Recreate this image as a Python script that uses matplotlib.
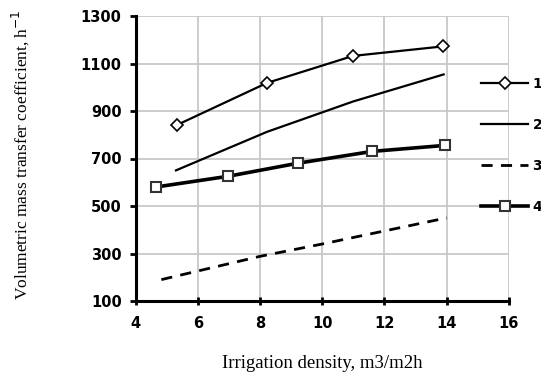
import matplotlib
matplotlib.use("Agg")
import matplotlib.pyplot as plt

# datos
x1 = [5.33, 8.22, 10.99, 13.88]
y1 = [841, 1018, 1132, 1172]

x2 = [5.30, 8.22, 10.99, 13.90]
y2 = [650, 812, 940, 1054]

x3 = [4.83, 8.0, 10.0, 12.0, 14.0]
y3 = [190, 288, 340, 395, 450]

x4 = [4.66, 6.97, 9.21, 11.61, 13.93]
y4 = [580, 625, 680, 730, 755]

labels = ["1", "2", "3", "4"]
xticks = [4, 6, 8, 10, 12, 14, 16]
yticks = [100, 300, 500, 700, 900, 1100, 1300]

fig = plt.figure(figsize=(5.41, 3.76), dpi=100)
ax = fig.add_axes([135.5 / 541, 1 - 301 / 376, (509 - 135.5) / 541, (301 - 16) / 376])

l1, = ax.plot(x1, y1, color="black", lw=1.6, marker="D", ms=6,
              mfc="white", mec="black", mew=1.2, label=labels[0])
l2, = ax.plot(x2, y2, color="black", lw=1.6, label=labels[1])
l3, = ax.plot(x3, y3, color="black", lw=2, ls=(0, (4, 3)), label=labels[2])
l4, = ax.plot(x4, y4, color="black", lw=2.6, marker="s", ms=6.5,
              mfc="white", mec="#333333", mew=1.5, label=labels[3])

ax.set_xlim(4, 16)
ax.set_ylim(100, 1300)
ax.set_xticks(xticks)
ax.set_yticks(yticks)
ax.grid(True, color="#c8c8c8", lw=1.3)
ax.set_axisbelow(True)

for s in ["top", "right"]:
    ax.spines[s].set_visible(False)
ax.spines["left"].set_linewidth(2.2)
ax.spines["bottom"].set_linewidth(2.2)

ax.tick_params(axis="x", direction="inout", length=6, width=2, pad=8)
ax.tick_params(axis="y", direction="out", length=4, width=2, pad=6)
for lab in ax.get_xticklabels() + ax.get_yticklabels():
    lab.set_fontweight("bold")
    lab.set_fontsize(10.5)
    lab.set_family("DejaVu Sans")

ax.set_xlabel("Irrigation density, m3/m2h", family="Liberation Serif",
              fontsize=13.5, va="center")
ax.xaxis.set_label_coords(0.5, (301 - 363) / 285)
ax.set_ylabel("Volumetric mass transfer coefficient, h$^{-1}$",
              family="Liberation Serif", fontsize=12.5, va="center")
ax.yaxis.set_label_coords((20 - 135.5) / 373.5, (301 - 155) / 285)

leg = fig.legend(handles=[l1, l2, l3, l4], loc="upper left",
                 bbox_to_anchor=(481 / 541, 1 - 77 / 376),
                 bbox_transform=fig.transFigure, frameon=False,
                 borderpad=0, borderaxespad=0, handlelength=3.4,
                 handletextpad=0.3, labelspacing=1.95,
                 prop={"family": "DejaVu Sans", "weight": "bold", "size": 10})

fig.savefig("out.png", dpi=100)
